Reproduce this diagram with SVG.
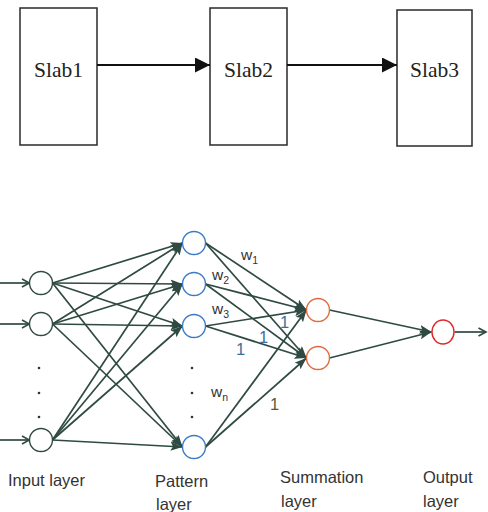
<svg xmlns="http://www.w3.org/2000/svg" width="488" height="512" viewBox="0 0 488 512">
<style>
.box{fill:#fff;stroke:#2a2a2a;stroke-width:1.5}
.slab{font-family:"Liberation Serif",serif;font-size:21.5px;fill:#222;text-anchor:middle}
.c{stroke:#2e4a42;stroke-width:1.7;fill:none}
.tarrow{stroke:#111;stroke-width:2;fill:none}
.in{fill:#fff;stroke:#2e4a42;stroke-width:1.4}
.pat{fill:#fff;stroke:#3a7bc8;stroke-width:1.4}
.sum{fill:#fff;stroke:#e06a40;stroke-width:1.4}
.out{fill:#fff;stroke:#e02828;stroke-width:1.4}
.lbl{font-family:"Liberation Sans",Arial,sans-serif;font-size:16.5px;fill:#333}
.w{font-family:"Liberation Sans",Arial,sans-serif;font-size:15.5px;fill:#333}
.ws{font-family:"Liberation Sans",Arial,sans-serif;font-size:10.5px;fill:#333}
.one{font-family:"Liberation Sans",Arial,sans-serif;font-size:16.5px;fill:#3d6e9c}
.dot{fill:#333}
</style>
<defs>
<marker id="big" markerUnits="userSpaceOnUse" markerWidth="16" markerHeight="16" refX="15" refY="7.5" orient="auto">
<path d="M0,0 L15,7.5 L0,15 z" fill="#111"/>
</marker>
<marker id="fh" markerUnits="userSpaceOnUse" markerWidth="13" markerHeight="10" refX="12" refY="4.5" orient="auto">
<path d="M0,0 L12,4.5 L0,9 L2.5,4.5 z" fill="#2e4a42"/>
</marker>
<marker id="oh" markerUnits="userSpaceOnUse" markerWidth="10" markerHeight="10" refX="8.5" refY="5" orient="auto">
<path d="M1,1 L8.5,5 L1,9" fill="none" stroke="#2e4a42" stroke-width="1.6"/>
</marker>
</defs>

<g id="slab1"><rect class="box" x="20" y="8" width="77" height="137"/><text class="slab" x="58.5" y="77">Slab1</text></g>
<g id="slab2"><rect class="box" x="210" y="8" width="77" height="137"/><text class="slab" x="248.5" y="77">Slab2</text></g>
<g id="slab3"><rect class="box" x="397" y="10" width="75" height="136"/><text class="slab" x="434.5" y="77">Slab3</text></g>

<g id="top-connectors">
<line class="tarrow" x1="97" y1="65" x2="210" y2="65" marker-end="url(#big)"/>
<line class="tarrow" x1="287" y1="65" x2="397" y2="65" marker-end="url(#big)"/>
</g>

<g id="connectors">
<line class="c" x1="0" y1="283" x2="29.5" y2="283" marker-end="url(#oh)"/>
<line class="c" x1="0" y1="324" x2="29.5" y2="324" marker-end="url(#oh)"/>
<line class="c" x1="0" y1="440" x2="29.5" y2="440" marker-end="url(#oh)"/>
<line class="c" x1="52.5" y1="283" x2="182.5" y2="243" marker-end="url(#fh)"/>
<line class="c" x1="52.5" y1="283" x2="182.5" y2="284" marker-end="url(#fh)"/>
<line class="c" x1="52.5" y1="283" x2="182.5" y2="326" marker-end="url(#fh)"/>
<line class="c" x1="52.5" y1="283" x2="182.5" y2="447" marker-end="url(#fh)"/>
<line class="c" x1="52.5" y1="324" x2="182.5" y2="243" marker-end="url(#fh)"/>
<line class="c" x1="52.5" y1="324" x2="182.5" y2="284" marker-end="url(#fh)"/>
<line class="c" x1="52.5" y1="324" x2="182.5" y2="326" marker-end="url(#fh)"/>
<line class="c" x1="52.5" y1="324" x2="182.5" y2="447" marker-end="url(#fh)"/>
<line class="c" x1="52.5" y1="440" x2="182.5" y2="243" marker-end="url(#fh)"/>
<line class="c" x1="52.5" y1="440" x2="182.5" y2="284" marker-end="url(#fh)"/>
<line class="c" x1="52.5" y1="440" x2="182.5" y2="326" marker-end="url(#fh)"/>
<line class="c" x1="52.5" y1="440" x2="182.5" y2="447" marker-end="url(#fh)"/>
<line class="c" x1="205.5" y1="243" x2="306.5" y2="310" marker-end="url(#fh)"/>
<line class="c" x1="205.5" y1="243" x2="306.5" y2="358" marker-end="url(#fh)"/>
<line class="c" x1="205.5" y1="284" x2="306.5" y2="310" marker-end="url(#fh)"/>
<line class="c" x1="205.5" y1="284" x2="306.5" y2="358" marker-end="url(#fh)"/>
<line class="c" x1="205.5" y1="326" x2="306.5" y2="310" marker-end="url(#fh)"/>
<line class="c" x1="205.5" y1="326" x2="306.5" y2="358" marker-end="url(#fh)"/>
<line class="c" x1="205.5" y1="447" x2="306.5" y2="310" marker-end="url(#fh)"/>
<line class="c" x1="205.5" y1="447" x2="306.5" y2="358" marker-end="url(#fh)"/>
<line class="c" x1="329.5" y1="310" x2="431.5" y2="332" marker-end="url(#fh)"/>
<line class="c" x1="329.5" y1="358" x2="431.5" y2="332" marker-end="url(#fh)"/>
<line class="c" x1="454.5" y1="332" x2="486" y2="332" marker-end="url(#oh)"/>
</g>

<g id="input1"><circle class="in" cx="41" cy="283" r="11.5"/></g>
<g id="input2"><circle class="in" cx="41" cy="324" r="11.5"/></g>
<g id="input-dots"><circle class="dot" cx="39" cy="368" r="1.3"/><circle class="dot" cx="39" cy="393" r="1.3"/><circle class="dot" cx="39" cy="417" r="1.3"/></g>
<g id="input3"><circle class="in" cx="41" cy="440" r="11.5"/></g>

<g id="pattern1"><circle class="pat" cx="194" cy="243" r="11.5"/></g>
<g id="pattern2"><circle class="pat" cx="194" cy="284" r="11.5"/></g>
<g id="pattern3"><circle class="pat" cx="194" cy="326" r="11.5"/></g>
<g id="pattern-dots"><circle class="dot" cx="192" cy="368" r="1.3"/><circle class="dot" cx="192" cy="393" r="1.3"/><circle class="dot" cx="192" cy="417" r="1.3"/></g>
<g id="pattern4"><circle class="pat" cx="194" cy="447" r="11.5"/></g>

<g id="sum1"><circle class="sum" cx="318" cy="310" r="11.5"/></g>
<g id="sum2"><circle class="sum" cx="318" cy="358" r="11.5"/></g>

<g id="output"><ellipse class="out" cx="443" cy="332" rx="11" ry="12"/></g>

<g id="weights">
<text class="w" x="241" y="260">w<tspan class="ws" dy="4">1</tspan></text>
<text class="w" x="212" y="280">w<tspan class="ws" dy="4">2</tspan></text>
<text class="w" x="212" y="314">w<tspan class="ws" dy="4">3</tspan></text>
<text class="w" x="211" y="397">w<tspan class="ws" dy="4">n</tspan></text>
<text class="one" x="280" y="328">1</text>
<text class="one" x="259" y="343">1</text>
<text class="one" x="236" y="355">1</text>
<text class="one" x="270" y="410" style="fill:#5a5a40">1</text>
</g>

<g id="labels">
<text class="lbl" x="8" y="486">Input layer</text>
<text class="lbl" x="155" y="487">Pattern</text>
<text class="lbl" x="156" y="510">layer</text>
<text class="lbl" x="280" y="483">Summation</text>
<text class="lbl" x="281" y="507">layer</text>
<text class="lbl" x="423" y="483">Output</text>
<text class="lbl" x="423" y="507">layer</text>
</g>
</svg>
